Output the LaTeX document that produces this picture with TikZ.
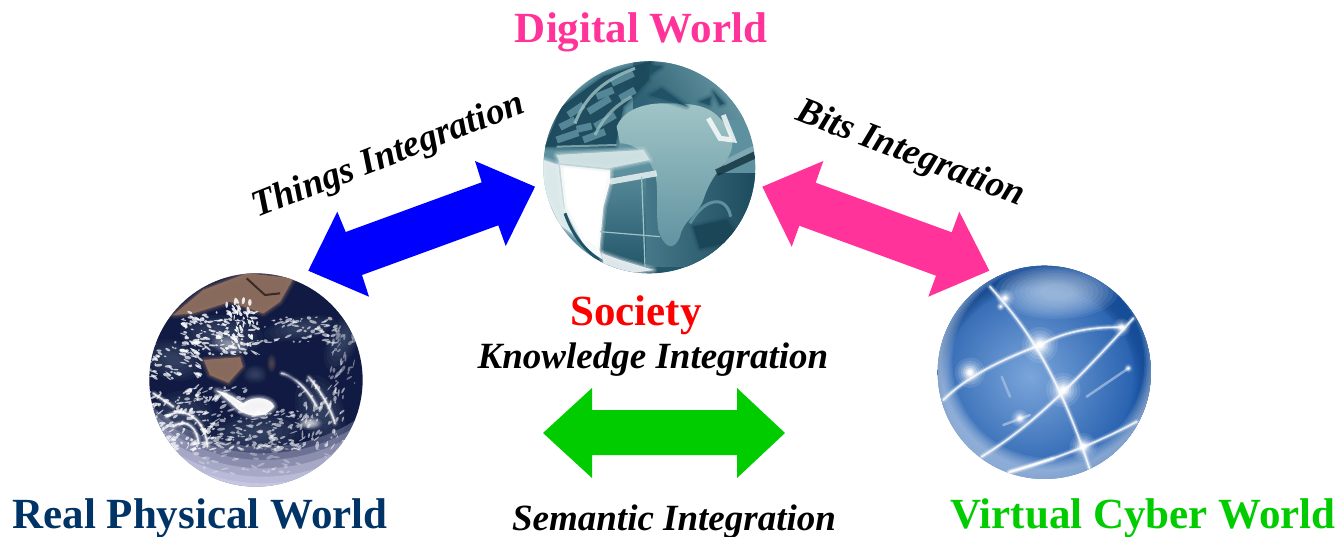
\documentclass[tikz,border=0pt]{standalone}
\usepackage{fontspec}
\setmainfont{Liberation Serif}
\definecolor{pinkc}{HTML}{FF3399}
\definecolor{navyc}{HTML}{003366}
\definecolor{greenc}{HTML}{00CC00}
\definecolor{teald}{HTML}{1F5266}
\definecolor{tealm}{HTML}{5E919F}
\definecolor{teall}{HTML}{A0C4C6}
\definecolor{blued}{HTML}{1A56A8}
\definecolor{bluel}{HTML}{6C9BD6}
\definecolor{earthd}{HTML}{101A42}
\definecolor{cloudh}{HTML}{5E6A86}
\definecolor{brownc}{HTML}{8F6F5F}
\tikzset{
  title/.style={font=\bfseries\fontsize{43}{43}\selectfont,anchor=base,inner sep=0pt},
  lbl/.style={font=\bfseries\itshape\fontsize{37}{37}\selectfont,anchor=base,inner sep=0pt,text=black},
  zoomed/.style={x=0.3333pt,y=-0.3333pt},
  mark point/.style={inner sep=0pt,minimum size=1pt},
}
% soft-edged filled shape
\newcommand{\soft}[2]{%
  \foreach \w/\o in {24/0.12,16/0.18,8/0.3}{%
    \path[draw=#1,fill=#1,opacity=\o,line width=\w*0.3333pt,line join=round] #2;}
  \fill[#1,opacity=0.9] #2;}
% soft line
\newcommand{\beam}[2][white]{%
  \draw[#1,opacity=0.15,line width=6pt,line cap=round] #2;
  \draw[#1,opacity=0.3,line width=3.5pt,line cap=round] #2;
  \draw[#1,opacity=0.8,line width=1.6pt,line cap=round] #2;}
% cluster of cloud specks
\newcommand{\clouds}[7]{% cx cy sx sy n ang opacity
  \foreach \i in {1,...,#5}{%
    \pgfmathsetmacro{\px}{#1+#3*(2*rnd-1)}
    \pgfmathsetmacro{\py}{#2+#4*(2*rnd-1)}
    \pgfmathsetmacro{\ra}{3+10*rnd}
    \pgfmathsetmacro{\rb}{1.5+4*rnd}
    \pgfmathsetmacro{\ang}{#6+60*(rnd-0.5)}
    \fill[white,opacity=#7,rotate around={\ang:(\px,\py)}] (\px,\py) ellipse[x radius=\ra,y radius=\rb];
  }}
% smooth haze blob
\newcommand{\haze}[6]{% cx cy rx ry ang colour
  \foreach \k in {1,0.85,0.7,0.55,0.4,0.25}
    \fill[#6,opacity=0.1,rotate around={#5:(#1,#2)}] (#1,#2) ellipse[x radius=#3*\k,y radius=#4*\k];}
% smooth crescent: circle ring whose inner circle drifts off centre
\newcommand{\crescent}[6]{% ox oy orad ix iy colour
  \foreach \k in {1.00,0.985,0.97,0.955,0.94,0.925,0.91,0.895}
    \fill[#6,opacity=0.1,even odd rule] (#1,#2) circle[radius=#3] (#4,#5) circle[radius=#3*\k];}
\begin{document}
\begin{tikzpicture}[x=1pt,y=-1pt]
\useasboundingbox (0,0) rectangle (1340,536);
% ---- digital globe
\begin{scope}[shift={(520,40)},zoomed]
 \begin{scope}
  \clip (388,382) circle[radius=318];
  \fill[tealm] (60,60) rectangle (720,710);
  \shade[top color=tealm!85!teald,bottom color=teald] (240,410) rectangle (720,710);
  \shade[left color=tealm!60!teald,right color=teald!90!black] (380,400) rectangle (720,680);
  \shade[left color=teald!75!tealm,right color=tealm!70!teall,shading angle=120] (340,60) rectangle (720,240);
  % keyboard
  \soft{teald!90!black}{(75,320) -- (125,200) -- (250,110) -- (395,62) -- (385,120) -- (310,200) -- (285,320) -- cycle}
  \foreach \a/\b/\c/\d in {110/300/175/278, 120/262/165/240, 145/225/190/195, 205/215/270/175, 225/260/285/225, 190/300/255/275, 170/268/215/258, 275/130/340/100, 230/170/280/150, 300/175/345/150}
    {\draw[tealm,line width=7pt,opacity=0.85] (\a,\b) -- (\c,\d);}
  \draw[teall,line width=3pt,opacity=0.8] (165,250) .. controls (195,170) and (250,120) .. (345,85);
  \draw[teall,line width=3pt,opacity=0.7] (225,285) .. controls (250,235) and (280,200) .. (335,170);
  \draw[teall,line width=2pt,opacity=0.7] (110,320) -- (290,315);
  % land
  \shade[top color=teall,bottom color=tealm] (290,260) .. controls (310,210) and (370,190) .. (430,190) .. controls (500,190) and (560,190) .. (600,235) .. controls (640,280) and (650,310) .. (620,360) .. controls (590,400) and (570,420) .. (550,480) .. controls (530,530) and (490,540) .. (480,590) .. controls (460,640) and (430,620) .. (415,570) .. controls (405,500) and (420,430) .. (400,390) .. controls (385,350) and (350,310) .. (300,310) -- cycle;
  % dark islands at top
  \soft{teald}{(425,145) -- (500,198) -- (440,180) -- (390,165) -- cycle}
  \soft{teald}{(540,185) -- (572,172) -- (568,195) -- cycle}
  \soft{teald}{(580,155) -- (612,190) -- (600,195) -- cycle}
  \soft{teald}{(385,75) -- (425,80) -- (395,100) -- cycle}
  \draw[white,line width=5pt,opacity=0.8] (565,235) -- (600,295) -- (640,300) -- (610,225);
  % right side
  \draw[teald!60!black,line width=7pt,opacity=0.8] (590,398) -- (705,345);
  \draw[tealm!70!white,line width=5pt,opacity=0.7] (610,370) -- (700,325);
  \draw[tealm,line width=3pt] (510,550) .. controls (555,470) and (620,465) .. (632,530);
  \soft{teald!85!black}{(520,560) -- (620,540) -- (660,600) -- (540,625) -- cycle}
  % white laptop
  \soft{white}{(120,375) -- (270,390) -- (270,425) -- (250,500) -- (238,630) -- (250,668) -- (195,620) -- (135,510) -- cycle}
  \fill[white] (130,380) -- (265,395) -- (245,500) -- (232,620) -- (195,600) -- (140,500) -- cycle;
  \soft{teall!45!white}{(110,345) -- (370,330) -- (388,360) -- (265,385) -- (120,370) -- cycle}
  \soft{white!70!teall}{(70,360) -- (115,375) -- (130,500) -- (170,590) -- (120,555) -- (70,450) -- cycle}
  \draw[teald,line width=3pt] (135,520) .. controls (160,590) and (200,640) .. (250,665);
  \draw[white!70!teall,line width=6pt,opacity=0.9] (270,425) -- (410,400);
  \soft{white!85!tealm}{(245,640) -- (300,660) -- (400,690) -- (260,710) -- cycle}
  \draw[teall,line width=1.2pt] (365,410) -- (375,680);
  \draw[teall,line width=1.2pt] (240,575) -- (420,590);
 \end{scope}
\end{scope}
\node[mark point] (digital) at (650,168) {};
% ---- earth
\begin{scope}[shift={(130,260)},zoomed]
 \begin{scope}
  \clip (378,360) circle[radius=320];
  \fill[earthd] (50,30) rectangle (710,690);
  % brown land at the top
  \soft{brownc}{(130,165) -- (220,90) -- (350,40) -- (490,55) -- (450,125) -- (400,160) -- (300,125) -- (190,160) -- cycle}
  \draw[black!75!brownc,line width=2pt,opacity=0.8] (350,55) -- (405,105) -- (450,100);
  % haze of cloud bands
  \haze{275}{225}{125}{60}{-5}{cloudh}
  \haze{130}{300}{90}{60}{-15}{cloudh}
  \haze{150}{480}{100}{85}{25}{cloudh}
  \haze{380}{520}{140}{60}{5}{cloudh}
  \haze{570}{450}{70}{110}{20}{cloudh}
  \haze{510}{205}{110}{35}{10}{cloudh}
  \haze{640}{240}{45}{100}{-25}{cloudh}
  % central land
  \soft{brownc}{(222,300) -- (330,292) -- (338,320) -- (295,368) -- (240,345) -- cycle}
  \haze{425}{310}{14}{28}{0}{brownc}
  \haze{375}{345}{35}{30}{0}{cloudh}
  % pale southern limb
  \foreach \y/\o in {40/0.25,60/0.25,80/0.25,105/0.3,130/0.3,150/0.3}
    \fill[white!90!blue,opacity=\o,even odd rule] (378,360) circle[radius=322] (400,\y) circle[radius=520];
  \pgfmathsetseed{11}
  \clouds{270}{220}{115}{65}{150}{-10}{0.75}
  \clouds{330}{190}{40}{70}{50}{-70}{0.85}
  \clouds{130}{300}{85}{55}{70}{-20}{0.7}
  \clouds{500}{210}{120}{40}{60}{10}{0.6}
  \clouds{150}{480}{100}{90}{130}{30}{0.7}
  \clouds{370}{510}{140}{60}{140}{10}{0.55}
  \clouds{570}{460}{70}{100}{80}{60}{0.55}
  \clouds{630}{280}{50}{100}{40}{60}{0.4}
  \clouds{260}{410}{90}{30}{40}{25}{0.6}
  \clouds{400}{600}{240}{40}{60}{0}{0.3}
  % bright central cloud
  \soft{white}{(340,430) .. controls (380,400) and (430,420) .. (432,440) .. controls (400,480) and (350,470) .. (320,445) .. controls (295,420) and (275,405) .. (260,392) .. controls (300,400) and (320,420) .. (340,430) -- cycle}
  \haze{300}{255}{55}{28}{-10}{white}
  \haze{540}{490}{38}{20}{0}{white}
  \haze{540}{490}{30}{14}{0}{white}
  % swirls
  \beam{(110,470) .. controls (170,430) and (230,490) .. (232,560)}
  \beam{(130,500) .. controls (170,470) and (205,510) .. (205,550)}
  \beam{(535,350) .. controls (570,390) and (600,440) .. (615,490)}
  \beam{(455,340) .. controls (500,350) and (540,400) .. (560,440)}
  \beam{(70,400) -- (130,440)}
  % dark gaps
  \haze{525}{130}{70}{40}{10}{earthd}
  \haze{525}{130}{55}{28}{10}{earthd}
  \haze{380}{375}{40}{22}{-20}{earthd}
  \haze{510}{340}{60}{28}{10}{earthd}
  \haze{510}{340}{45}{20}{10}{earthd}
 \end{scope}
\end{scope}
\node[mark point] (earth) at (256,380) {};
% ---- cyber
\begin{scope}[shift={(920,250)},zoomed]
 \begin{scope}
  \clip (373,367) circle[radius=320];
  \shade[inner color=bluel!90!white,outer color=blued] (330,380) circle[radius=370];
  % top and right darkening
  \crescent{373}{367}{322}{360}{400}{blued!70!black}
  \crescent{373}{367}{322}{350}{380}{blued}
  % pale top highlight
  \foreach \r in {1,0.92,0.84,0.76,0.68,0.6,0.52,0.44,0.36,0.28}
    \fill[white!65!bluel,opacity=0.1] (410,125) ellipse[x radius=185*\r,y radius=82*\r];
  % pale bottom-left rim
  \crescent{373}{367}{322}{385}{335}{white!70!bluel}
  \beam{(210,110) .. controls (280,190) and (400,320) .. (510,660)}
  \beam{(70,450) .. controls (150,370) and (270,320) .. (360,285) .. controls (440,240) and (530,230) .. (610,232)}
  \beam{(185,620) .. controls (300,550) and (420,450) .. (640,205)}
  \beam{(270,665) .. controls (400,630) and (530,580) .. (650,515)}
  \beam{(265,668) -- (400,625)}
  \draw[white,opacity=0.4,line width=2.5pt,line cap=round] (500,440) -- (625,355);
  \draw[white,opacity=0.3,line width=2.5pt,line cap=round] (245,380) -- (270,440);
  \draw[white,opacity=0.4,line width=2.5pt,line cap=round] (250,525) -- (330,495);
  \foreach \gx/\gy/\gs in {360/285/1.2,430/420/1.15,150/368/1,490/590/0.9,605/232/0.6,255/145/0.6,300/505/0.6,625/355/0.3,242/170/0.3}{
   \foreach \r/\o in {45/0.1,36/0.14,28/0.2,21/0.3,15/0.45,10/0.7,6/0.95}
     \fill[white,opacity=\o] (\gx,\gy) circle[radius=\r*\gs];
  }
 \end{scope}
\end{scope}
\node[mark point] (cyber) at (1045,372) {};
% ---- arrows
\fill[blue] (535,186.7) -- (505.7,246) -- (498.3,225.3) -- (362,275) -- (369,296.7) -- (308.3,270.7) -- (337.3,211.7) -- (345.7,232) -- (481.7,182.3) -- (475,161) -- cycle;
\fill[pinkc] (762.3,186.7) -- (823.3,161) -- (815.7,182.7) -- (951.7,232.3) -- (959.3,211.7) -- (989.3,270.7) -- (928.3,296.7) -- (936,275.7) -- (799.3,225.7) -- (791.7,246.7) -- cycle;
\fill[greenc] (543,433) -- (592,388) -- (592,410) -- (737,410) -- (737,388) -- (785,433) -- (737,478) -- (737,455) -- (592,455) -- (592,478) -- cycle;
% ---- text
\node[title,text=pinkc] (tdigital) at (641,42) {Digital World};
\node[title,text=red] (tsociety) at (636,325) {Society};
\node[title,text=navyc] (treal) at (200,528) {Real Physical World};
\node[title,text=greenc] (tvirtual) at (1143,528) {Virtual Cyber World};
\node[lbl] (tknow) at (653,368) {Knowledge Integration};
\node[lbl] (tsem) at (674,530) {Semantic Integration};
\node[lbl,rotate=21.5] (tthings) at (392,165) {Things Integration};
\node[lbl,rotate=-21] (tbits) at (907,163) {Bits Integration};
\end{tikzpicture}
\end{document}
